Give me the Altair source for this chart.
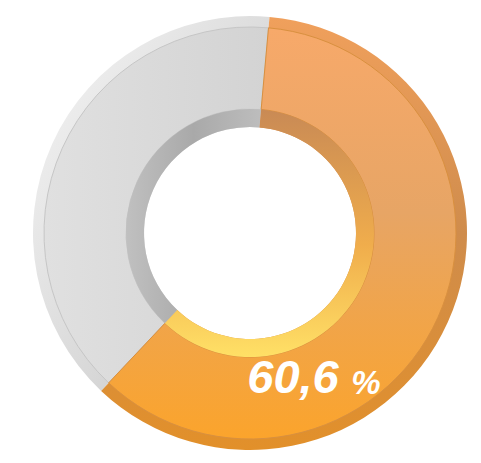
import altair as alt
import pandas as pd

categories = ["Oui", "Non"]
values = [60.6, 39.4]
order = [0, 1]
label_number = ["60,6"]
label_unit = ["%"]

df = pd.DataFrame({"cat": categories, "val": values, "ord": order})
lab = pd.DataFrame({"num": label_number, "unit": label_unit})
total = float(sum(values))

CX, CY = 242, 225
start = 0.09
tscale = alt.Scale(domain=[0, total], range=[start, start + 6.283185307])

base = alt.Chart(df).transform_window(
    cum="sum(val)", sort=[alt.SortField("ord")], frame=[None, 0]
).transform_calculate(prev="datum.cum - datum.val")

def ring(cat, r_out, r_in, fill, stroke=None):
    kw = dict(radius=r_out, radius2=r_in, fill=fill)
    if stroke:
        kw.update(stroke=stroke, strokeWidth=1)
    return base.transform_filter(alt.datum.cat == cat).mark_arc(**kw).encode(
        theta=alt.Theta("prev:Q", scale=tscale), theta2="cum:Q",
        x=alt.value(CX), y=alt.value(CY)
    )

def grad(x1, y1, x2, y2, stops):
    return alt.LinearGradient(gradient="linear", x1=x1, y1=y1, x2=x2, y2=y2,
        stops=[alt.GradientStop(offset=o, color=c) for o, c in stops])

grey_outer = grad(0, 0, 1, 1, [(0, "#f6f6f6"), (0.6, "#d8d8d8"), (1, "#bdbdbd")])
grey_face = grad(0, 0, 1, 0, [(0, "#e0e0e0"), (1, "#d3d3d3")])
grey_inner = grad(0, 0, 1, 0, [(0, "#c0c0c0"), (0.5, "#a9a9a9"), (1, "#bdbdbd")])

or_outer = grad(0, 0, 0, 1, [(0, "#f0a05c"), (0.5, "#cf8c4c"), (1, "#e2902a")])
or_face = grad(0, 0, 0, 1, [(0, "#f7a96a"), (0.45, "#e7a565"), (1, "#fba42c")])
or_inner = grad(0, 0, 0, 1, [(0, "#c98a55"), (0.55, "#f0ad4c"), (1, "#ffe066")])

layers = [
    ring("Non", 217, 106, grey_outer),
    ring("Oui", 217, 106, or_outer),
    ring("Non", 206, 124, grey_face, "#c6c6c6"),
    ring("Oui", 206, 124, or_face, "#d9903f"),
    ring("Non", 124, 106, grey_inner),
    ring("Oui", 124, 106, or_inner),
]

num = alt.Chart(lab).mark_text(font="Liberation Sans", fontWeight="bold", fontStyle="italic",
    fontSize=47, color="white").encode(text="num:N", x=alt.value(285), y=alt.value(371))
unit = alt.Chart(lab).mark_text(font="Liberation Sans", fontWeight="bold", fontStyle="italic",
    fontSize=33, color="white").encode(text="unit:N", x=alt.value(358), y=alt.value(376))

dash = alt.Chart(lab).mark_rule(color="#8cc63f", strokeWidth=2, strokeDash=[9, 5]).encode(
    x=alt.value(372), x2=alt.value(475), y=alt.value(454))

chart = alt.layer(*layers, num, unit, dash).properties(
    width=465, height=447, padding=0,
    autosize=alt.AutoSizeParams(type="fit", contains="padding"),
).configure_view(stroke=None)

chart.save("out.html", embed_options={"renderer": "svg", "actions": False})
